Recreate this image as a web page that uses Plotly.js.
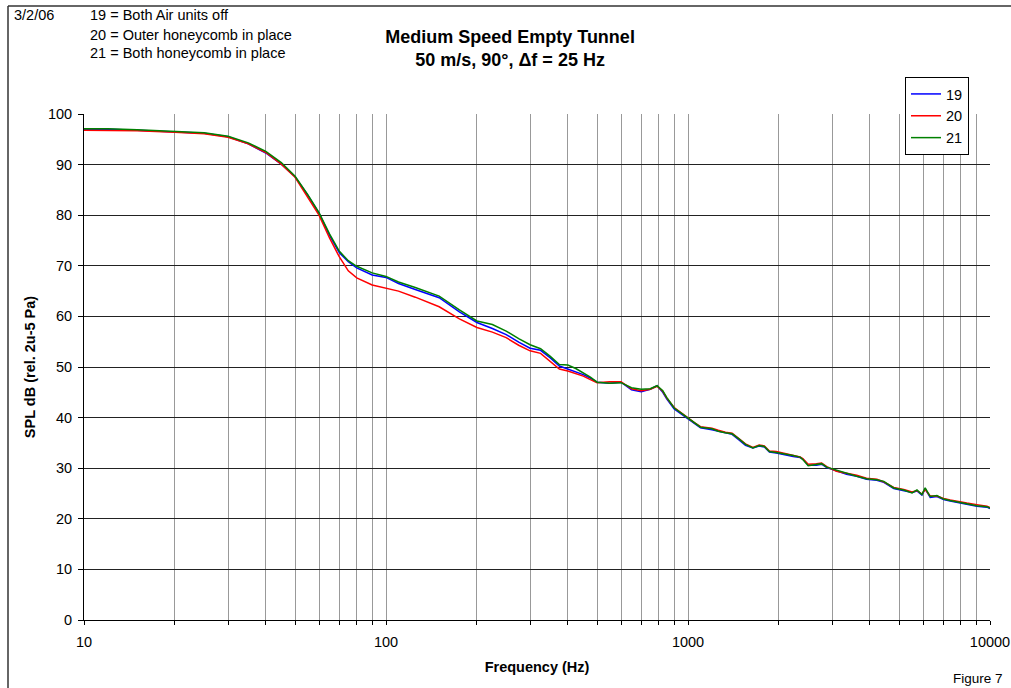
<!DOCTYPE html>
<html>
<head>
<meta charset="utf-8">
<script src="https://cdn.plot.ly/plotly-3.0.1.min.js"></script>
<style>
html,body{margin:0;padding:0;background:#fff;}
#chart{width:1011px;height:688px;}
</style>
</head>
<body>
<div id="chart"></div>
<script>
// Frequency (Hz)
const freq = [10,12,15,20,25,30,35,40,45,50,55,60,65,70,75,80,90,100,110,125,150,175,200,225,250,275,300,325,350,375,400,425,450,475,500,550,600,650,700,750,790,825,850,900,950,1000,1050,1100,1200,1260,1330,1400,1475,1550,1640,1720,1790,1860,1960,2060,2230,2350,2400,2500,2660,2770,2880,3100,3350,3620,3900,4220,4450,4800,5180,5520,5730,5950,6100,6340,6670,7020,7380,7970,8380,9050,9770,10000];
// 19 = Both Air units off
const spl19 = [97.0,97.0,96.8,96.5,96.2,95.5,94.1,92.3,90.1,87.6,84.0,80.4,76.0,72.6,70.8,69.6,68.2,67.7,66.5,65.3,63.7,60.9,58.8,57.6,56.4,54.9,53.7,53.3,51.8,50.2,49.6,49.0,48.5,47.8,47.0,46.8,47.0,45.5,45.1,45.6,46.3,45.0,43.7,41.7,40.7,39.8,38.8,38.0,37.6,37.3,36.9,36.7,35.6,34.5,34.0,34.4,34.2,33.2,33.0,32.7,32.3,32.1,31.8,30.6,30.6,30.8,30.1,29.5,28.8,28.4,27.8,27.6,27.2,26.0,25.6,25.2,25.5,24.7,25.9,24.2,24.4,23.8,23.5,23.1,22.9,22.5,22.3,22.0];
// 20 = Outer honeycomb in place
const spl20 = [96.8,96.8,96.7,96.4,96.1,95.4,94.1,92.4,90.1,87.5,83.6,80.0,75.5,71.8,69.0,67.6,66.2,65.5,65.0,63.8,61.9,59.5,57.8,56.9,55.8,54.3,53.2,52.7,51.1,49.6,49.2,48.7,48.2,47.5,46.9,47.1,47.1,45.7,45.3,45.6,46.2,45.2,43.9,42.0,40.9,40.0,39.0,38.2,37.9,37.5,37.1,36.9,35.9,34.8,34.1,34.6,34.4,33.4,33.3,33.0,32.6,32.2,31.9,30.8,30.9,31.0,30.3,29.4,29.0,28.6,28.0,27.8,27.3,26.2,25.8,25.3,25.6,24.9,25.8,24.5,24.5,24.0,23.7,23.3,23.1,22.8,22.5,22.2];
// 21 = Both honeycomb in place
const spl21 = [97.1,97.1,96.9,96.6,96.3,95.6,94.3,92.6,90.4,87.7,84.1,80.5,76.3,72.9,71.0,69.9,68.6,67.9,66.8,65.7,64.0,61.3,59.1,58.4,57.1,55.6,54.4,53.6,52.1,50.5,50.4,49.7,48.9,48.0,47.0,46.8,46.9,45.9,45.6,45.7,46.3,45.3,44.0,41.9,40.9,39.9,38.9,38.1,37.8,37.3,37.0,36.8,35.8,34.7,34.0,34.5,34.3,33.3,33.1,32.9,32.5,32.2,31.7,30.5,30.7,30.9,30.2,29.6,28.9,28.4,27.9,27.7,27.4,26.1,25.7,25.1,25.7,24.8,26.1,24.4,24.6,23.9,23.6,23.2,23.0,22.6,22.4,22.1];

const seriesNames = ['19','20','21'];
const seriesColors = ['#0000FF','#FF0000','#008000'];
const seriesData = [spl19, spl20, spl21];

// x ticks: every log minor position, labels only on decades
const decades = [10,100,1000];
const xTickVals = [];
const xTickText = [];
decades.forEach(d => { for (let m = 1; m <= 9; m++) { xTickVals.push(d*m); xTickText.push(m === 1 ? String(d) : ''); } });
xTickVals.push(10000); xTickText.push('10000');

const FONT = 'Liberation Sans, Arial, Helvetica, sans-serif';
const FS = 14.5;

const traces = seriesData.map((ys, i) => ({
  type: 'scatter', mode: 'lines', x: freq, y: ys, name: seriesNames[i],
  legendgroup: 'g' + i,
  line: {color: seriesColors[i], width: 1.5}
}));

const px2x = p => (p - 84) / 906;
const px2y = p => (620 - p) / 506;

const layout = {
  width: 1011, height: 688,
  paper_bgcolor: '#ffffff', plot_bgcolor: '#ffffff',
  margin: {l: 84, r: 21, t: 114, b: 68},
  font: {family: FONT, size: FS, color: '#000'},
  showlegend: true,
  title: {
    text: '<b>Medium Speed Empty Tunnel<br>50 m/s, 90°, Δf = 25 Hz</b>',
    font: {family: FONT, size: 18, color: '#000'},
    xref: 'container', x: 0.5045, xanchor: 'center',
    yref: 'container', y: 1 - 43/688, yanchor: 'top'
  },
  legend: {
    x: px2x(905), xanchor: 'left', y: px2y(77), yanchor: 'top',
    bgcolor: '#ffffff', bordercolor: '#000', borderwidth: 1,
    font: {family: FONT, size: FS, color: '#000'},
    traceorder: 'grouped', tracegroupgap: 0, itemwidth: 30
  },
  xaxis: {
    type: 'log', range: [1, 4],
    tickmode: 'array', tickvals: xTickVals, ticktext: xTickText,
    ticks: 'outside', ticklen: 4, tickcolor: '#000', tickwidth: 1,
    ticklabelstandoff: 5,
    showgrid: true, gridcolor: '#999999', gridwidth: 1,
    showline: true, linecolor: '#000', linewidth: 1,
    zeroline: false,
    tickfont: {family: FONT, size: FS, color: '#000'},
    title: {text: '<b>Frequency (Hz)</b>', font: {family: FONT, size: FS, color: '#000'}, standoff: 12}
  },
  yaxis: {
    range: [0, 100], dtick: 10, tick0: 0,
    ticks: 'outside', ticklen: 5, tickcolor: '#000', tickwidth: 1,
    ticklabelstandoff: 3,
    showgrid: true, gridcolor: '#222222', gridwidth: 1,
    showline: true, linecolor: '#000', linewidth: 1,
    zeroline: false,
    tickfont: {family: FONT, size: FS, color: '#000'},
    title: {text: '<b>SPL dB (rel. 2u-5 Pa)</b>', font: {family: FONT, size: FS, color: '#000'}, standoff: 8}
  },
  shapes: [
    {type: 'line', xref: 'paper', yref: 'paper', x0: px2x(8), x1: 1.05, y0: px2y(6), y1: px2y(6), line: {color: '#333', width: 1.5}},
    {type: 'line', xref: 'paper', yref: 'paper', x0: px2x(8), x1: px2x(8), y0: px2y(6), y1: -0.16, line: {color: '#333', width: 1.5}}
  ],
  annotations: [
    {xref: 'paper', yref: 'paper', x: px2x(12), y: px2y(15), xanchor: 'left', yanchor: 'middle', showarrow: false, text: '3/2/06', font: {family: FONT, size: FS, color: '#000'}},
    {xref: 'paper', yref: 'paper', x: px2x(88), y: px2y(15), xanchor: 'left', yanchor: 'middle', showarrow: false, text: '19 = Both Air units off', font: {family: FONT, size: FS, color: '#000'}},
    {xref: 'paper', yref: 'paper', x: px2x(88), y: px2y(35.5), xanchor: 'left', yanchor: 'middle', showarrow: false, text: '20 = Outer honeycomb in place', font: {family: FONT, size: FS, color: '#000'}},
    {xref: 'paper', yref: 'paper', x: px2x(88), y: px2y(53), xanchor: 'left', yanchor: 'middle', showarrow: false, text: '21 = Both honeycomb in place', font: {family: FONT, size: FS, color: '#000'}},
    {xref: 'paper', yref: 'paper', x: px2x(1005), y: px2y(678), xanchor: 'right', yanchor: 'middle', showarrow: false, text: 'Figure 7', font: {family: FONT, size: 13.5, color: '#000'}}
  ]
};

Plotly.newPlot('chart', traces, layout, {displayModeBar: false, responsive: false});
</script>
</body>
</html>
